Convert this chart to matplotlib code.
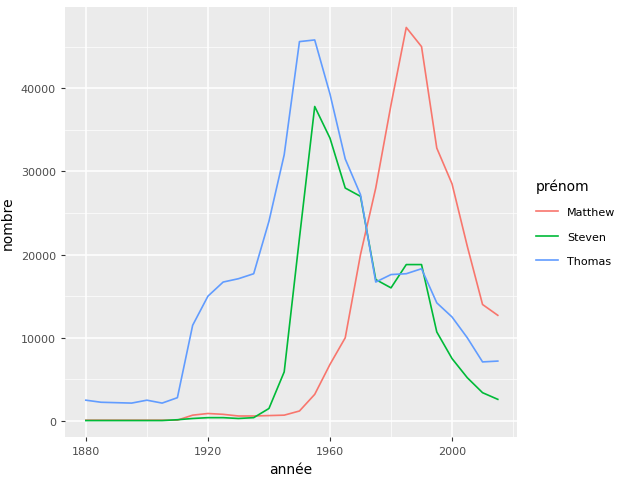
import matplotlib
matplotlib.use("Agg")
import matplotlib.pyplot as plt
import numpy as np

years = list(range(1880, 2016, 5))
matthew = [100,100,100,100,100,100,100,700,900,800,600,600,650,700,1200,3200,6800,10000,20000,28000,38000,47300,45000,32800,28500,21000,14000,12700]
steven = [50,50,50,50,50,50,150,300,400,400,300,400,1500,5900,22000,37800,34000,28000,27000,17000,16000,18800,18800,10700,7500,5200,3400,2600]
thomas = [2500,2250,2200,2150,2500,2150,2800,11500,15000,16700,17100,17700,24000,32000,45600,45800,39300,31500,27200,16700,17600,17700,18300,14200,12500,10000,7100,7200]
names = ["Matthew", "Steven", "Thomas"]
colors = ["#F8766D", "#00BA38", "#619CFF"]

fig = plt.figure(figsize=(6.29, 4.85), dpi=100)
ax = fig.add_axes([0.103, 0.097, 0.719, 0.886])
ax.set_facecolor("#EBEBEB")
for s in ax.spines.values():
    s.set_visible(False)
for n, v, c in zip(names, [matthew, steven, thomas], colors):
    ax.plot(years, v, color=c, lw=1.2, label=n)
ax.set_xlim(1873.1, 2021.3)
ax.set_ylim(-1920, 49730)
ax.set_xticks([1880, 1920, 1960, 2000])
ax.set_xticks([1900, 1940, 1980, 2020], minor=True)
ax.set_yticks([0, 10000, 20000, 30000, 40000])
ax.set_yticks([5000, 15000, 25000, 35000, 45000], minor=True)
ax.grid(which="major", color="white", lw=1.1)
ax.grid(which="minor", color="white", lw=0.5)
ax.set_axisbelow(True)
ax.tick_params(which="both", length=3, color="#333333", labelsize=8, labelcolor="#4D4D4D")
ax.tick_params(which="minor", length=0)
ax.set_xlabel("année", fontsize=10)
ax.set_ylabel("nombre", fontsize=10)
leg = ax.legend(title="prénom", loc="center left", bbox_to_anchor=(1.02, 0.5), frameon=False,
                fontsize=8, title_fontsize=10, handlelength=2, labelspacing=1.3)
leg._legend_box.align = "left"
fig.savefig("out.png", dpi=100)
